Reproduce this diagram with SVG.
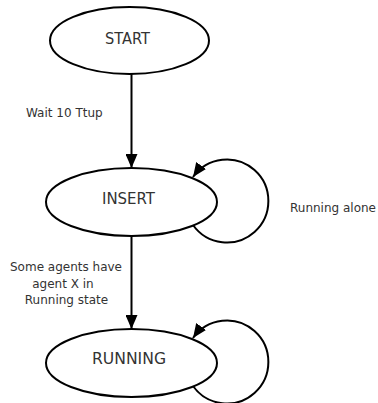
<svg xmlns="http://www.w3.org/2000/svg" width="378" height="403" viewBox="0 0 378 403">
<style>
.node{fill:#fff;stroke:#000;stroke-width:2}
.edge{fill:none;stroke:#000;stroke-width:2}
.nl{font-family:"DejaVu Sans",sans-serif;font-size:16px;fill:#333;text-anchor:middle}
.el{font-family:"DejaVu Sans",sans-serif;font-size:12px;fill:#333}
</style>
<defs>
<marker id="arr" markerUnits="userSpaceOnUse" markerWidth="14" markerHeight="12" refX="14" refY="6" orient="auto">
<path d="M0,0 L14,6 L0,12 z" fill="#000"/>
</marker>
</defs>
<rect width="378" height="403" fill="#fff"/>
<g id="connectors">
<line class="edge" x1="131.5" y1="74" x2="131.5" y2="168" marker-end="url(#arr)"/>
<line class="edge" x1="131.5" y1="236" x2="131.5" y2="329" marker-end="url(#arr)"/>
<path class="edge" d="M193,225 A41.5,41.5 0 1 0 193,177" marker-end="url(#arr)"/>
<path class="edge" d="M193,386 A41.5,41.5 0 1 0 193,338" marker-end="url(#arr)"/>
<text class="el" x="26" y="117">Wait 10 Ttup</text>
<text class="el" x="290" y="212">Running alone</text>
<text class="el" text-anchor="middle" x="66" y="271">Some agents have</text>
<text class="el" text-anchor="middle" x="63" y="287.5">agent X in</text>
<text class="el" text-anchor="middle" x="66.5" y="304">Running state</text>
</g>
<g id="start">
<ellipse class="node" cx="129.5" cy="40.5" rx="79.5" ry="33.5"/>
<text class="nl" x="127.5" y="44" textLength="45" lengthAdjust="spacingAndGlyphs">START</text>
</g>
<g id="insert">
<ellipse class="node" cx="131.5" cy="202" rx="85.5" ry="34"/>
<text class="nl" x="128.5" y="204" textLength="53" lengthAdjust="spacingAndGlyphs">INSERT</text>
</g>
<g id="running">
<ellipse class="node" cx="131.5" cy="363" rx="85.5" ry="34"/>
<text class="nl" x="129" y="364" textLength="74" lengthAdjust="spacingAndGlyphs">RUNNING</text>
</g>
</svg>
